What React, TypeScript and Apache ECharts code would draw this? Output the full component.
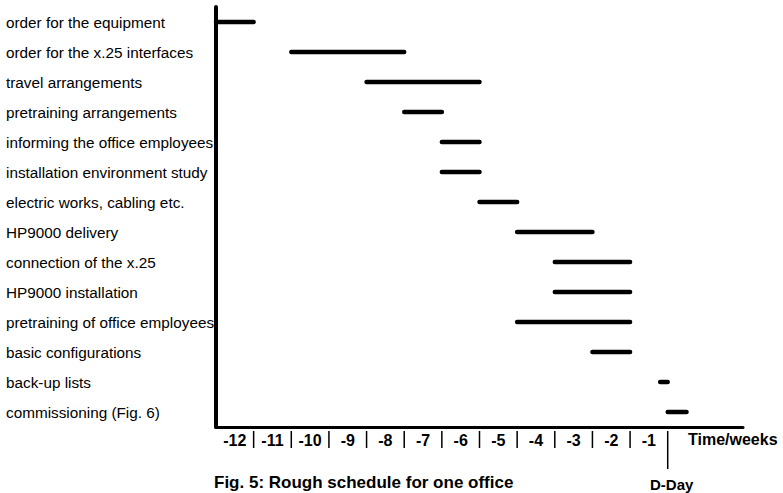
import React, { useEffect, useRef } from "react";
import * as echarts from "echarts";

const tasks = [
  "order for the equipment",
  "order for the x.25 interfaces",
  "travel arrangements",
  "pretraining arrangements",
  "informing the office employees",
  "installation environment study",
  "electric works, cabling etc.",
  "HP9000 delivery",
  "connection of the x.25",
  "HP9000 installation",
  "pretraining of office employees",
  "basic configurations",
  "back-up lists",
  "commissioning (Fig. 6)",
];
const starts = [-12, -10, -8, -7, -6, -6, -5, -4, -3, -3, -4, -2, -0.2, 0];
const ends = [-11, -7, -5, -6, -5, -5, -4, -2, -1, -1, -1, -1, 0, 0.5];
const weekLabels = ["-12", "-11", "-10", "-9", "-8", "-7", "-6", "-5", "-4", "-3", "-2", "-1"];
const boundaries = [-11, -10, -9, -8, -7, -6, -5, -4, -3, -2, -1, 0];
const dDay = 0;

const FONT = "'Liberation Sans', Arial, sans-serif";

export default function App() {
  const ref = useRef<HTMLDivElement>(null);
  useEffect(() => {
    if (!ref.current) return;
    const chart = echarts.init(ref.current, undefined, { renderer: "svg" });
    const barData = tasks.map((_, i) => [starts[i], ends[i], i]);
    chart.setOption({
      animation: false,
      backgroundColor: "#fff",
      grid: { left: 216, right: 40, top: 7, bottom: 66, containLabel: false },
      xAxis: {
        type: "value",
        min: -12,
        max: 2,
        interval: 0.5,
        splitLine: { show: false },
        axisTick: { show: false },
        axisLine: { show: true, onZero: false, lineStyle: { color: "#000", width: 3 } },
        axisLabel: {
          color: "#000",
          fontFamily: FONT,
          fontWeight: "bold",
          fontSize: 16,
          margin: 5,
          formatter: (v: number) => {
            const i = v + 11.5;
            if (Math.abs(i - Math.round(i)) < 1e-6) {
              const k = Math.round(i);
              if (k >= 0 && k < weekLabels.length) return weekLabels[k];
            }
            return "";
          },
        },
      },
      yAxis: {
        type: "category",
        inverse: true,
        data: tasks,
        axisTick: { show: false },
        splitLine: { show: false },
        axisLine: { show: true, onZero: false, lineStyle: { color: "#000", width: 4 } },
        axisLabel: {
          color: "#000",
          fontFamily: FONT,
          fontSize: 15.3,
          align: "left",
          margin: 210,
        },
      },
      graphic: [
        {
          type: "text",
          left: 688,
          top: 431,
          style: { text: "Time/weeks", fill: "#000", font: `bold 16px ${FONT}` },
        },
        {
          type: "text",
          left: 214,
          top: 474,
          style: { text: "Fig. 5: Rough schedule for one office", fill: "#000", font: `bold 17px ${FONT}` },
        },
      ],
      series: [
        {
          type: "custom",
          name: "tasks",
          data: barData,
          encode: { x: [0, 1], y: 2 },
          renderItem: (params: any, api: any) => {
            const s = api.coord([api.value(0), api.value(2)]);
            const e = api.coord([api.value(1), api.value(2)]);
            return {
              type: "line",
              shape: { x1: s[0], y1: s[1], x2: e[0], y2: e[1] },
              style: { stroke: "#000", lineWidth: 4.5, lineCap: "round" },
            };
          },
        },
        {
          type: "custom",
          name: "separators",
          data: boundaries.map((b) => [b]),
          encode: { x: 0 },
          clip: false,
          renderItem: (params: any, api: any) => {
            const v = api.value(0);
            const p = api.coord([v, 0]);
            const bottom = params.coordSys.y + params.coordSys.height;
            const isD = v === dDay;
            const children: any[] = [
              {
                type: "line",
                shape: { x1: p[0], y1: bottom + 4, x2: p[0], y2: bottom + (isD ? 42 : 21) },
                style: { stroke: "#000", lineWidth: 1.5 },
              },
            ];
            if (isD) {
              children.push({
                type: "text",
                x: p[0] + 4,
                y: bottom + 57,
                style: {
                  text: "D-Day",
                  fill: "#000",
                  font: `bold 15px ${FONT}`,
                  align: "center",
                  verticalAlign: "middle",
                },
              });
            }
            return { type: "group", children };
          },
        },
      ],
    });
    return () => chart.dispose();
  }, []);
  return (
    <div
      ref={ref}
      style={{ position: "fixed", left: 0, top: 0, width: 783, height: 493 }}
    />
  );
}
